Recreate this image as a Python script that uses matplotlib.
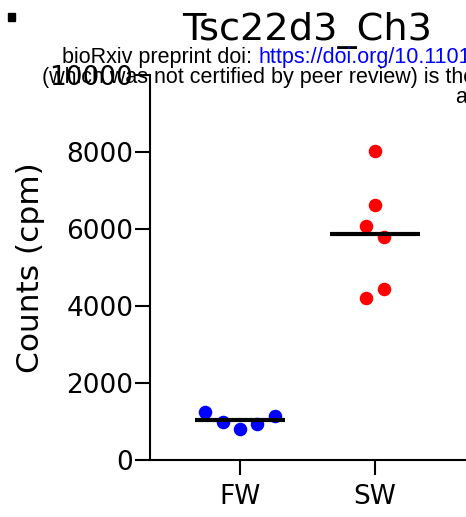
import numpy as np
import matplotlib.pyplot as plt
from matplotlib.patches import Rectangle

# Tsc22d3 expression (counts per million), freshwater vs seawater
groups = ["FW", "SW"]
fw_counts = [1239, 995, 805, 943, 1151]
sw_counts = [8034, 6631, 6078, 5784, 4216, 4434]
colors = ["#0000ff", "#ff0000"]


def swarm_offsets(values, row_span=450, step=0.128):
    # bin close values into rows, then spread each row symmetrically
    order = np.argsort(values, kind="stable")
    rows, cur, start = [], [], None
    for i in order:
        if start is None or values[i] - start > row_span:
            if cur:
                rows.append(cur)
            cur, start = [i], values[i]
        else:
            cur.append(i)
    rows.append(cur)
    offsets = np.zeros(len(values))
    for row in rows:
        row = sorted(row)
        n = len(row)
        for k, i in enumerate(row):
            offsets[i] = (k - (n - 1) / 2) * step
    return offsets


fig = plt.figure(figsize=(4.66, 5.17), dpi=100)
ax = fig.add_axes([150 / 466, 57 / 517, 315 / 466, 385 / 517])

for pos, (vals, col) in enumerate(zip([fw_counts, sw_counts], colors)):
    vals = np.array(vals, dtype=float)
    xs = pos + swarm_offsets(vals)
    ax.scatter(xs, vals, s=95, color=col, zorder=3, linewidths=0)
    ax.hlines(vals.mean(), pos - 0.333, pos + 0.333, color="black",
              lw=3, zorder=4)

ax.set_xlim(-0.667, 1.667)
ax.set_ylim(0, 10000)
ax.set_xticks(range(len(groups)))
ax.set_xticklabels(groups)
ax.set_yticks(np.arange(0, 10001, 2000))
ax.tick_params(axis="both", labelsize=19, length=11, width=1.5)
ax.tick_params(axis="y", pad=1)
ax.tick_params(axis="x", pad=6)
for side in ["top", "right"]:
    ax.spines[side].set_visible(False)
for side in ["left", "bottom"]:
    ax.spines[side].set_linewidth(1.5)
ax.set_ylabel("Counts (cpm)", fontsize=22.5)
ax.yaxis.set_label_coords(-0.333, 0.5)
ax.set_title("Tsc22d3_Ch3", fontsize=27.5, pad=25)

# preprint header overlay
hdr = dict(family="Liberation Sans", fontsize=15.5, va="baseline", ha="left")
t = fig.text(62 / 466, 1 - 63 / 517, "bioRxiv preprint doi: ", **hdr)
fig.canvas.draw()
w = t.get_window_extent().width
fig.text((62 + w) / 466, 1 - 63 / 517,
         "https://doi.org/10.1101/2021.03.05.434128", color="#0000ff", **hdr)
fig.text(42 / 466, 1 - 83 / 517,
         "(which was not certified by peer review) is the author/funder", **hdr)
fig.text(456 / 466, 1 - 103 / 517, "available under aCC-BY 4.0", **hdr)

fig.add_artist(Rectangle((8 / 466, 1 - 21 / 517), 7 / 466, 8 / 517,
                         transform=fig.transFigure, color="black"))

fig.savefig("out.png", dpi=100)
